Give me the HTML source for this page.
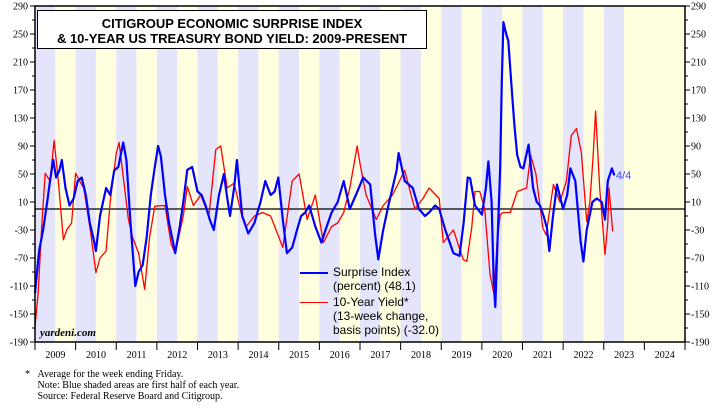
<!DOCTYPE html>
<html><head><meta charset="utf-8">
<style>
body{margin:0;background:#fff;width:717px;height:407px;overflow:hidden}
svg text{font-family:"Liberation Serif",serif}
</style></head><body>
<svg id="c" width="717" height="407" xmlns="http://www.w3.org/2000/svg"></svg>
<script>
const blueDates=[2009.0,2009.1,2009.2,2009.3,2009.37,2009.45,2009.52,2009.6,2009.66,2009.75,2009.85,2009.95,2010.05,2010.15,2010.25,2010.35,2010.45,2010.5,2010.6,2010.75,2010.85,2010.95,2011.05,2011.17,2011.25,2011.35,2011.47,2011.55,2011.65,2011.75,2011.85,2011.95,2012.03,2012.1,2012.2,2012.3,2012.45,2012.55,2012.65,2012.75,2012.87,2013.0,2013.1,2013.2,2013.3,2013.4,2013.53,2013.65,2013.72,2013.8,2013.9,2013.97,2014.1,2014.25,2014.4,2014.55,2014.67,2014.8,2014.9,2014.99,2015.1,2015.2,2015.33,2015.45,2015.55,2015.65,2015.75,2015.9,2016.05,2016.15,2016.3,2016.45,2016.6,2016.75,2016.9,2017.08,2017.25,2017.37,2017.45,2017.57,2017.7,2017.8,2017.9,2017.95,2018.1,2018.2,2018.3,2018.45,2018.6,2018.7,2018.85,2018.95,2019.1,2019.3,2019.45,2019.55,2019.65,2019.71,2019.83,2020.0,2020.1,2020.16,2020.24,2020.29,2020.33,2020.39,2020.45,2020.49,2020.53,2020.6,2020.65,2020.74,2020.8,2020.87,2020.95,2021.02,2021.15,2021.26,2021.35,2021.43,2021.52,2021.6,2021.66,2021.75,2021.85,2022.0,2022.1,2022.18,2022.3,2022.43,2022.5,2022.58,2022.72,2022.83,2022.95,2023.03,2023.1,2023.2,2023.26];
const blueValues=[-120,-60,-30,10,40,70,45,55,70,30,5,15,40,45,20,-20,-45,-60,-10,30,20,55,60,95,70,-20,-110,-90,-80,-40,20,60,90,75,20,-20,-63,-30,10,56,60,25,20,5,-15,-30,20,50,20,-10,30,70,-10,-35,-20,10,40,20,25,45,-15,-63,-55,-30,-10,-5,5,-25,-48,-30,-5,10,40,0,20,45,35,-35,-72,-30,5,30,55,80,40,35,30,0,-10,-5,5,0,-30,-63,-67,-20,45,44,5,-8,30,68,10,-103,-140,-40,60,182,267,250,240,168,120,77,60,58,92,30,10,5,-10,-27,-60,-10,35,0,20,58,40,-46,-75,-30,10,15,10,-15,40,58,48];
const redDates=[2009.0,2009.08,2009.16,2009.25,2009.37,2009.47,2009.57,2009.7,2009.78,2009.9,2010.0,2010.1,2010.2,2010.37,2010.5,2010.6,2010.75,2010.85,2011.0,2011.07,2011.2,2011.3,2011.4,2011.55,2011.7,2011.82,2011.95,2012.2,2012.35,2012.45,2012.65,2012.75,2012.9,2013.08,2013.28,2013.45,2013.57,2013.73,2013.9,2014.07,2014.2,2014.4,2014.6,2014.8,2015.0,2015.1,2015.33,2015.5,2015.7,2015.9,2016.1,2016.3,2016.45,2016.6,2016.75,2016.93,2017.0,2017.15,2017.4,2017.57,2017.8,2018.1,2018.35,2018.55,2018.7,2018.95,2019.05,2019.3,2019.54,2019.63,2019.75,2019.83,2019.95,2020.07,2020.2,2020.3,2020.37,2020.45,2020.53,2020.7,2020.87,2021.1,2021.2,2021.33,2021.5,2021.58,2021.76,2021.92,2022.08,2022.2,2022.33,2022.45,2022.58,2022.66,2022.74,2022.8,2022.9,2023.03,2023.1,2023.13,2023.22];
const redValues=[-167,-120,-30,51,40,98,42,-44,-30,-20,51,40,30,-34,-91,-70,-60,10,80,95,32,-15,-40,-63,-115,-40,4,5,-50,-63,-10,32,5,20,-10,85,90,30,37,-5,-25,-10,-5,-10,-40,-55,40,50,-15,20,-48,-25,-20,-5,30,90,65,20,-15,5,20,55,0,15,30,15,-48,-30,-72,-75,-27,25,25,0,-93,-122,-50,-8,-5,-5,25,30,77,50,-27,-37,35,10,40,105,115,80,-18,10,77,140,30,-65,-20,30,-32];
const yTicks=[290,250,210,170,130,90,50,10,-30,-70,-110,-150,-190];
const years=[2009,2010,2011,2012,2013,2014,2015,2016,2017,2018,2019,2020,2021,2022,2023,2024];

const X0=35,X1=685,YT=6,YB=342,VMIN=-190,VMAX=290,T0=2009,T1=2025;
const xs=t=>X0+(t-T0)/(T1-T0)*(X1-X0);
const ys=v=>YB-(v-VMIN)/(VMAX-VMIN)*(YB-YT);
const svg=document.getElementById('c');
const NS='http://www.w3.org/2000/svg';
function mk(tag,at,txt){const e=document.createElementNS(NS,tag);for(const k in at)e.setAttribute(k,at[k]);if(txt!=null)e.textContent=txt;svg.appendChild(e);return e;}

// shading
for(let y=2009;y<2025;y++){
  let e=mk('rect',{x:xs(y),y:YT,width:xs(y+0.5)-xs(y),height:YB-YT,fill:(y<=2023?'#e4e4fa':'#ffffe0')});
  
  
  e=mk('rect',{x:xs(y+0.5),y:YT,width:xs(y+1)-xs(y+0.5),height:YB-YT,fill:'#ffffe0'});
  
  
}
// zero line
let z=mk('line',{x1:X0,x2:X1,y1:ys(0),y2:ys(0),stroke:'#000','stroke-width':1.3});



function series(d,v,col,w,name){
  const p=d.map((t,i)=>(i?'L':'M')+xs(t).toFixed(1)+','+ys(v[i]).toFixed(1)).join('');
  const e=mk('path',{d:p,fill:'none',stroke:col,'stroke-width':w,'stroke-linejoin':'round'});
  
  
}
series(redDates,redValues,'#ff0000',1.3,'yield-change-line');
series(blueDates,blueValues,'#0000ff',2.2,'surprise-index-line');

// frame
let f=mk('rect',{x:X0,y:YT,width:X1-X0,height:YB-YT,fill:'none',stroke:'#000','stroke-width':1.5});



// y ticks
for(let v=-190;v<=290;v+=20){
  const major=yTicks.includes(v);
  mk('line',{x1:X0-(major?5:3),x2:X0,y1:ys(v),y2:ys(v),stroke:'#000'});
  mk('line',{x1:X1,x2:X1+(major?5:3),y1:ys(v),y2:ys(v),stroke:'#000'});
}
yTicks.forEach(v=>{
  let t=mk('text',{x:28,y:ys(v)+3.5,'font-size':10,'text-anchor':'end'},v);
  
  
  t=mk('text',{x:691,y:ys(v)+3.5,'font-size':10},v);
  
  
});
// x ticks
years.forEach(y=>{
  mk('line',{x1:xs(y),x2:xs(y),y1:YB,y2:YB+8,stroke:'#000'});
  const t=mk('text',{x:xs(y+0.5),y:358,'font-size':10,'text-anchor':'middle'},y);
  
  
});
mk('line',{x1:X1,x2:X1,y1:YB,y2:YB+8,stroke:'#000'});
</script>
<div style="position:absolute;left:37px;top:10px;width:390px;height:39px;background:#fff;border:1px solid #000;font:bold 13px 'Liberation Sans',sans-serif;text-align:center;line-height:15px;padding-top:5px;box-sizing:border-box">CITIGROUP ECONOMIC SURPRISE INDEX<br>&amp; 10-YEAR US TREASURY BOND YIELD: 2009-PRESENT</div>
<div style="position:absolute;left:300px;top:265px;font:12px 'Liberation Sans',sans-serif;line-height:14px;color:#000">
  <div style="position:relative;padding-left:33px"><span style="position:absolute;left:0;top:7px;width:28px;height:2px;background:#00f"></span>Surprise Index<br>(percent) (48.1)</div>
  <div style="position:relative;padding-left:33px;margin-top:2px"><span style="position:absolute;left:0;top:7px;width:28px;height:1px;background:#f00"></span>10-Year Yield*<br>(13-week change,<br>basis points) (-32.0)</div>
</div>
<div style="position:absolute;left:616px;top:170px;font:11px 'Liberation Sans',sans-serif;color:#4040ff">4/4</div>
<div style="position:absolute;left:40px;top:327px;font:italic bold 11px 'Liberation Serif',serif">yardeni.com</div>
<div style="position:absolute;left:25px;top:369px;font:10px 'Liberation Serif',serif;line-height:11px">*&nbsp;&nbsp;&nbsp;Average for the week ending Friday.<br>&nbsp;&nbsp;&nbsp;&nbsp;&nbsp;Note: Blue shaded areas are first half of each year.<br>&nbsp;&nbsp;&nbsp;&nbsp;&nbsp;Source: Federal Reserve Board and Citigroup.</div>
</body></html>
